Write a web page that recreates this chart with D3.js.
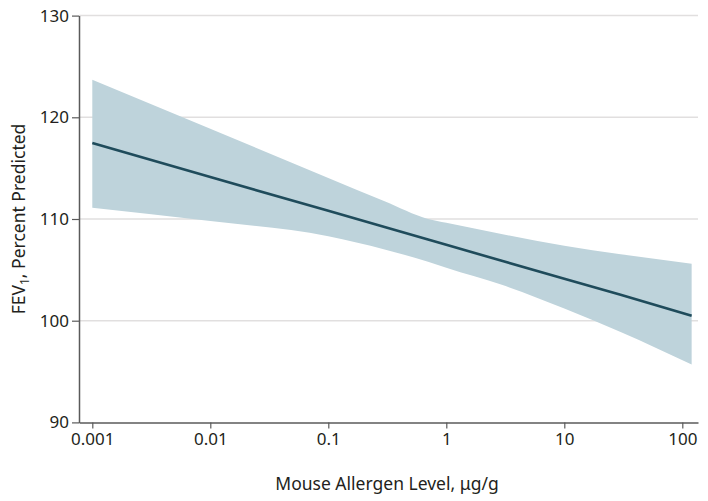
<!DOCTYPE html>
<html>
<head>
<meta charset="utf-8">
<script src="https://cdn.jsdelivr.net/npm/d3@7"></script>
<style>
  html, body { margin: 0; padding: 0; background: #fff; }
  svg { display: block; }
  text { font-family: "Noto Sans", "Open Sans", sans-serif; fill: #231f20; }
</style>
</head>
<body>
<svg id="chart" width="708" height="501"></svg>
<script>
// Allergen levels (µg/g), log scale
const allergen = [0.001, 0.01, 0.1, 0.3, 0.7, 1, 3, 10, 30, 120];
// Fitted FEV1 % predicted
const fitted = [117.47, 114.13, 110.80, 109.21, 107.98, 107.46, 105.87, 104.13, 102.54, 100.49];
// 95% CI bounds
const upper = [123.7, 118.87, 114.04, 111.74, 110.0, 109.62, 108.5, 107.37, 106.53, 105.6];
const lower = [111.1, 109.8, 108.3, 107.0, 105.8, 105.2, 103.5, 101.2, 98.9, 95.7];

const xTicks = [0.001, 0.01, 0.1, 1, 10, 100];
const xTickLabels = ["0.001", "0.01", "0.1", "1", "10", "100"];
const yTicks = [90, 100, 110, 120, 130];

const svg = d3.select("#chart");
const mLeft = 79, mRight = 698, mTop = 15.6, mBottom = 422.4;

const x = d3.scaleLog()
  .domain([Math.pow(10, -3 - 13.3 / 118), Math.pow(10, -3 + 605.7 / 118)])
  .range([mLeft, mRight]);
const y = d3.scaleLinear().domain([90, 130]).range([mBottom, mTop]);

const data = allergen.map((a, i) => ({ a, f: fitted[i], u: upper[i], l: lower[i] }));

// Gridlines
svg.append("g").selectAll("line")
  .data(yTicks.filter(t => t > 90))
  .join("line")
  .attr("x1", mLeft).attr("x2", mRight)
  .attr("y1", d => y(d)).attr("y2", d => y(d))
  .attr("stroke", "#e1dfdf").attr("stroke-width", 1.5);

// Band
svg.append("path")
  .datum(data)
  .attr("fill", "#bed3db")
  .attr("d", d3.area().curve(d3.curveMonotoneX)
    .x(d => x(d.a)).y0(d => y(d.l)).y1(d => y(d.u)));

// Line
svg.append("path")
  .datum(data)
  .attr("fill", "none")
  .attr("stroke", "#1f4b5b")
  .attr("stroke-width", 2.6)
  .attr("d", d3.line().x(d => x(d.a)).y(d => y(d.f)));

// Axes
const xAxis = d3.axisBottom(x).tickValues(xTicks)
  .tickFormat((d, i) => xTickLabels[i]).tickSize(6).tickPadding(5).tickSizeOuter(0);
const gx = svg.append("g").attr("transform", `translate(0,${mBottom})`).call(xAxis);
const yAxis = d3.axisLeft(y).tickValues(yTicks).tickSize(7).tickPadding(3).tickSizeOuter(0);
const gy = svg.append("g").attr("transform", `translate(${mLeft},0)`).call(yAxis);

[gx, gy].forEach(g => {
  g.select(".domain").attr("stroke", "#5a5a5a").attr("stroke-width", 1.5);
  g.selectAll(".tick line").attr("stroke", "#5a5a5a").attr("stroke-width", 1.2);
  g.selectAll(".tick text").attr("font-size", 17).attr("fill", "#231f20")
    .style("font-family", '"Noto Sans", sans-serif');
});

// Axis titles
svg.append("text")
  .attr("x", 387).attr("y", 490)
  .attr("text-anchor", "middle")
  .attr("font-size", 17.5)
  .text("Mouse Allergen Level, μg/g");

const yt = svg.append("text")
  .attr("transform", "translate(25,219) rotate(-90)")
  .attr("text-anchor", "middle")
  .attr("font-size", 17.5);
yt.append("tspan").text("FEV");
yt.append("tspan").attr("font-size", 12).attr("dy", 4).text("1");
yt.append("tspan").attr("dy", -4).text(", Percent Predicted");
</script>
</body>
</html>
